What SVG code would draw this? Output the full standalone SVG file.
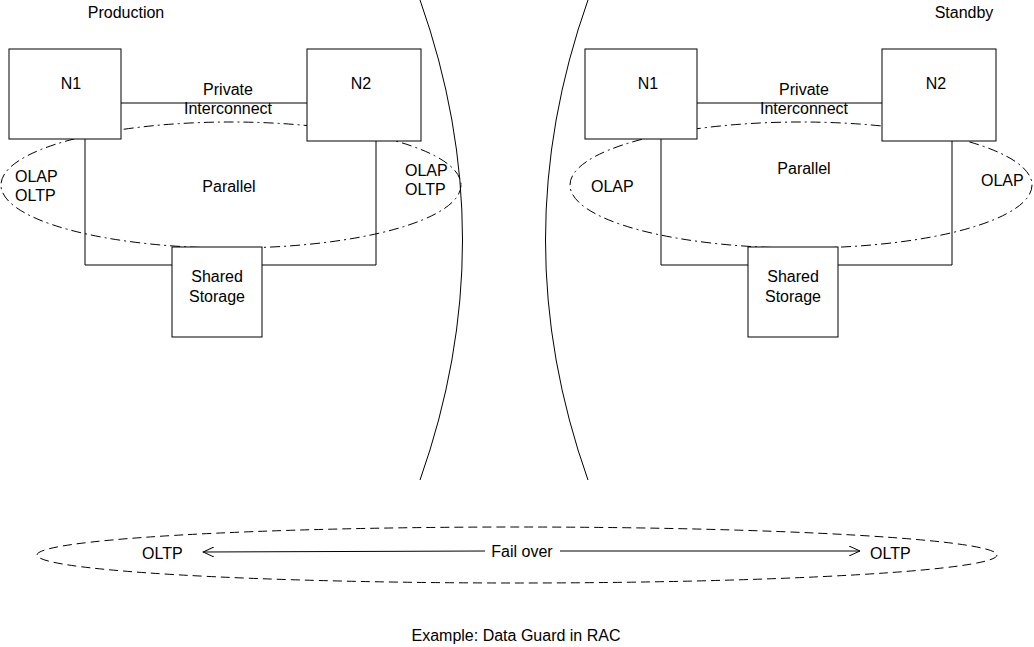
<svg xmlns="http://www.w3.org/2000/svg" width="1034" height="647" viewBox="0 0 1034 647">
<style>
text{font-family:"Liberation Sans",Arial,sans-serif;font-size:16px;fill:#000}
.b{fill:#fff;stroke:#000;stroke-width:1}
.l{fill:none;stroke:#000;stroke-width:1}
.d{fill:none;stroke:#000;stroke-width:1;stroke-dasharray:10 4 2 4}
.e{fill:none;stroke:#000;stroke-width:1;stroke-dasharray:9 5}
</style>
<defs><marker id="a" markerWidth="12" markerHeight="10" refX="11" refY="5" orient="auto" markerUnits="userSpaceOnUse"><path d="M0,0 L11,5 L0,10" fill="none" stroke="#000"/></marker></defs>
<rect width="1034" height="647" fill="#fff"/>
<g id="connectors">
<line class="l" x1="485" y1="551" x2="203" y2="552" marker-end="url(#a)"/>
<line class="l" x1="560" y1="551" x2="860" y2="551" marker-end="url(#a)"/>
<line class="l" x1="121" y1="103" x2="307" y2="103"/>
<polyline class="l" points="85,139 85,265 172,265"/>
<polyline class="l" points="262,265 376,265 376,141"/>
<line class="l" x1="697" y1="103" x2="882" y2="103"/>
<polyline class="l" points="661,139 661,265 748,265"/>
<polyline class="l" points="838,265 952,265 952,141"/>
<path class="l" d="M420,0 Q505,240 420,480"/>
<path class="l" d="M588,0 Q503,240 588,480"/>
</g>
<g id="ellipses">
<ellipse class="d" cx="231" cy="185" rx="230" ry="63"/>
<ellipse class="d" cx="801" cy="185" rx="231" ry="63"/>
<ellipse class="e" cx="517" cy="555" rx="480" ry="28"/>
</g>
<g id="p-n1"><rect class="b" x="9" y="49" width="112" height="90"/><text x="71" y="89" text-anchor="middle">N1</text></g>
<g id="p-n2"><rect class="b" x="307" y="49" width="114" height="92"/><text x="361" y="89" text-anchor="middle">N2</text></g>
<g id="p-ss"><rect class="b" x="172" y="247" width="90" height="90"/><text x="217" y="282" text-anchor="middle">Shared</text><text x="217" y="302" text-anchor="middle">Storage</text></g>
<g id="s-n1"><rect class="b" x="585" y="49" width="112" height="90"/><text x="648" y="89" text-anchor="middle">N1</text></g>
<g id="s-n2"><rect class="b" x="882" y="49" width="114" height="92"/><text x="936" y="89" text-anchor="middle">N2</text></g>
<g id="s-ss"><rect class="b" x="748" y="247" width="90" height="90"/><text x="793" y="282" text-anchor="middle">Shared</text><text x="793" y="302" text-anchor="middle">Storage</text></g>
<g id="labels">
<text x="126" y="18" text-anchor="middle">Production</text>
<text x="964" y="18" text-anchor="middle">Standby</text>
<text x="228" y="95" text-anchor="middle">Private</text>
<text x="228" y="114" text-anchor="middle">Interconnect</text>
<text x="804" y="95" text-anchor="middle">Private</text>
<text x="804" y="114" text-anchor="middle">Interconnect</text>
<text x="229" y="192" text-anchor="middle">Parallel</text>
<text x="804" y="174" text-anchor="middle">Parallel</text>
<text x="15" y="182">OLAP</text><text x="15" y="201">OLTP</text>
<text x="405" y="176">OLAP</text><text x="405" y="195">OLTP</text>
<text x="591" y="192">OLAP</text>
<text x="981" y="186">OLAP</text>
<text x="142" y="559">OLTP</text>
<text x="522" y="557" text-anchor="middle">Fail over</text>
<text x="870" y="559">OLTP</text>
<text x="516" y="641" text-anchor="middle">Example: Data Guard in RAC</text>
</g>
</svg>
